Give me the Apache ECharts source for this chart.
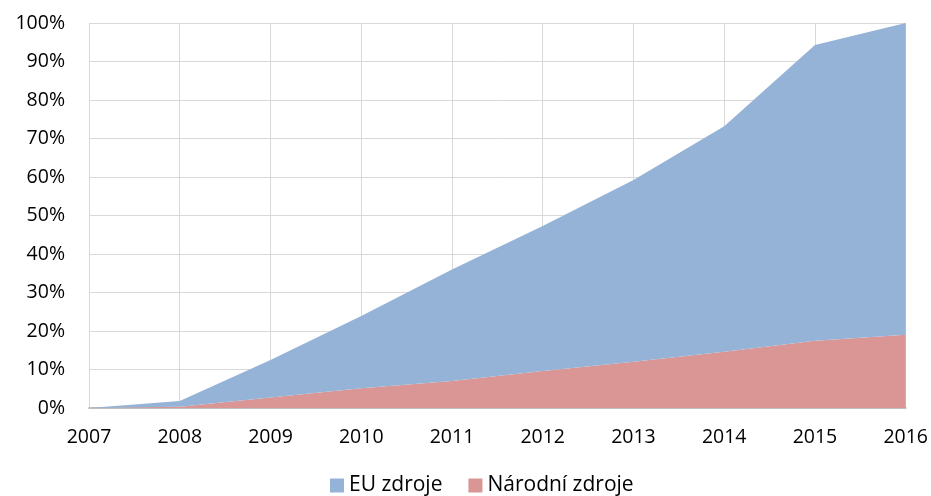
<!DOCTYPE html>
<html>
<head>
<meta charset="utf-8">
<script src="https://cdn.jsdelivr.net/npm/echarts@6/dist/echarts.min.js"></script>
<style>html,body{margin:0;padding:0;background:#fff}#c{width:931px;height:496px}</style>
</head>
<body>
<div id="c"></div>
<script>
const years = ['2007','2008','2009','2010','2011','2012','2013','2014','2015','2016'];
const narodni = [0, 0.3, 2.7, 5.1, 7.0, 9.6, 12.0, 14.6, 17.5, 19.0];
const eu = [0, 1.5, 9.8, 18.8, 29.0, 37.7, 47.2, 58.6, 76.8, 81.0];
const yTicks = [0,10,20,30,40,50,60,70,80,90,100];

const font = 'Open Sans, Liberation Sans, sans-serif';
const chart = echarts.init(document.getElementById('c'), null, {renderer:'canvas'});
chart.setOption({
  animation: false,
  grid: {left: 89, right: 24, top: 23, bottom: 88, containLabel: false},
  legend: {
    data: ['EU zdroje','Národní zdroje'],
    bottom: -5, left: 325,
    itemWidth: 14, itemHeight: 14, itemGap: 26,
    icon: 'rect',
    textStyle: {fontFamily: font, fontSize: 21, color: '#000'}
  },
  xAxis: {
    type: 'category', data: years, boundaryGap: false,
    axisLine: {lineStyle: {color: '#BFBFBF', width: 2}},
    axisTick: {show: false},
    axisLabel: {fontFamily: font, fontSize: 19.5, color: '#000', margin: 19},
    splitLine: {show: true, lineStyle: {color: '#D9D9D9', width: 1}}
  },
  yAxis: {
    type: 'value', min: 0, max: 100, interval: 10,
    axisLine: {show: false}, axisTick: {show: false},
    axisLabel: {fontFamily: font, fontSize: 19.5, color: '#000', margin: 24,
      formatter: v => yTicks.includes(v) ? v + '%' : ''},
    splitLine: {lineStyle: {color: '#D9D9D9', width: 1}}
  },
  series: [
    {name: 'Národní zdroje', type: 'line', stack: 'a', data: narodni,
     showSymbol: false, lineStyle: {width: 0}, itemStyle: {color: '#D99694'},
     areaStyle: {color: '#D99694', opacity: 1}},
    {name: 'EU zdroje', type: 'line', stack: 'a', data: eu,
     showSymbol: false, lineStyle: {width: 0}, itemStyle: {color: '#95B3D7'},
     areaStyle: {color: '#95B3D7', opacity: 1}}
  ]
});
</script>
</body>
</html>
